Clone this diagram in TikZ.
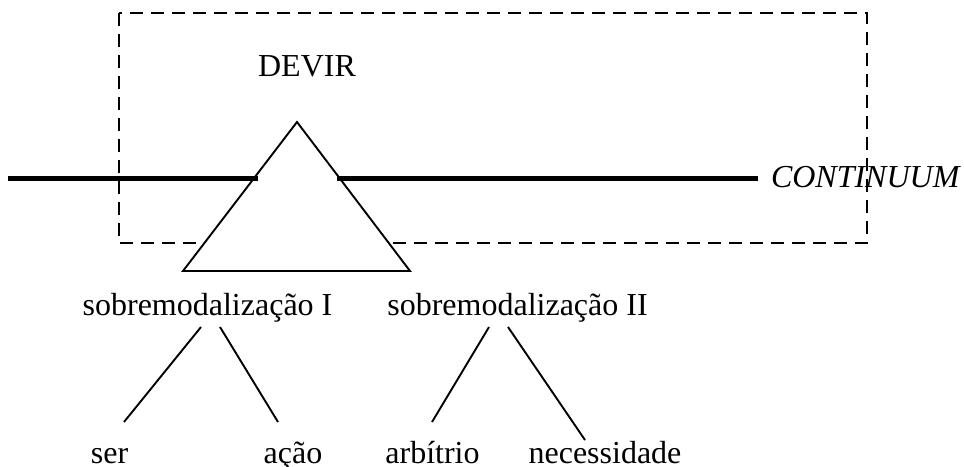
\documentclass[tikz,border=0pt]{standalone}
\usepackage{fontspec}
\setmainfont{Liberation Serif}
\begin{document}
\begin{tikzpicture}[x=1pt,y=-1pt,
  lbl/.style={inner sep=0pt,outer sep=0pt,anchor=base,font=\fontsize{32}{38}\selectfont},
  thin/.style={line width=1.9pt},
  thick line/.style={line width=5pt},
  dashbox/.style={line width=1.9pt,dash pattern=on 13pt off 8pt}]
\useasboundingbox (0,0) rectangle (964,466);
% dashed frame
\draw[dashbox] (119,13) rectangle (867,243);
% triangle
\coordinate (apex) at (297,122);
\coordinate (bl) at (183,271);
\coordinate (br) at (410,271);
\draw[thin,fill=white] (apex) -- (bl) -- (br) -- cycle;
% continuum line
\coordinate (c1) at (8,178);
\coordinate (c2) at (258,178);
\coordinate (c3) at (337,178);
\coordinate (c4) at (758,178);
\draw[thick line] (c1) -- (c2);
\draw[thick line] (c3) -- (c4);
% texts
\node[lbl] (devir) at (307,76) {DEVIR};
\node[lbl,anchor=base west] (cont) at (771,187) {\itshape CONTINUUM};
\node[lbl] (s1) at (207.5,315) {sobremodalização I};
\node[lbl] (s2) at (517.5,315) {sobremodalização II};
\node[lbl] (ser) at (109.5,463) {ser};
\node[lbl] (acao) at (293,463) {ação};
\node[lbl] (arb) at (432.5,463) {arbítrio};
\node[lbl] (nec) at (605,463) {necessidade};
% tree connectors
\coordinate (s1a) at (201,327);
\coordinate (s1b) at (220,327);
\coordinate (sera) at (124,422);
\coordinate (acaoa) at (278,422);
\coordinate (s2a) at (489,327);
\coordinate (s2b) at (508,327);
\coordinate (arba) at (432,422);
\coordinate (neca) at (585,440);
\draw[thin] (s1a) -- (sera);
\draw[thin] (s1b) -- (acaoa);
\draw[thin] (s2a) -- (arba);
\draw[thin] (s2b) -- (neca);
\end{tikzpicture}
\end{document}
